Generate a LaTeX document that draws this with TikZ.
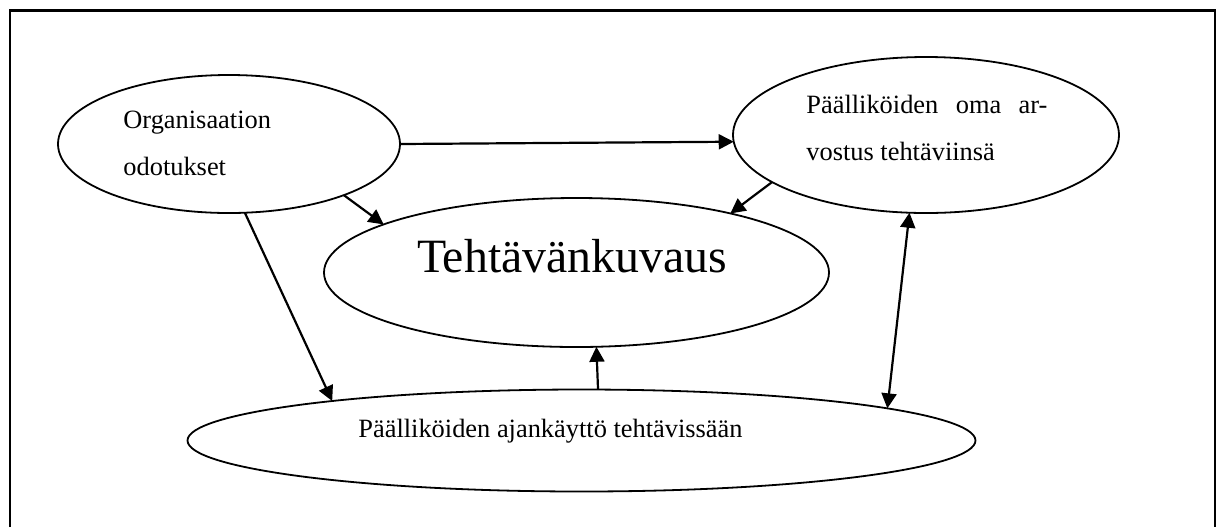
\documentclass[tikz,border=0pt]{standalone}
\usepackage{fontspec}
\setmainfont{Liberation Serif}
\usetikzlibrary{shapes.geometric,arrows.meta}
\begin{document}
\begin{tikzpicture}[x=0.5pt,y=-0.5pt,
  oval/.style={ellipse,draw,line width=0.9pt,inner sep=0pt,outer sep=0pt},
  lbl/.style={anchor=base west,inner sep=0pt,font=\fontsize{13.2}{16}\selectfont},
  conn/.style={line width=1.1pt,-{Triangle[length=7.5pt,width=7.5pt]}},
  dconn/.style={line width=1.1pt,{Triangle[length=7.5pt,width=7.5pt]}-{Triangle[length=7.5pt,width=7.5pt]}}]
\useasboundingbox (0,0) rectangle (1222,527);
\draw[line width=1.1pt] (10,527) -- (10,10.5) -- (1215,10.5) -- (1215,527);
% ellipses
\node[oval,minimum width=171pt,minimum height=69pt] (org) at (229,144) {};
\node[oval,minimum width=193pt,minimum height=78pt] (oma) at (926,135) {};
\node[oval,minimum width=252.5pt,minimum height=74.5pt] (teh) at (576.5,272.5) {};
\node[oval,minimum width=394pt,minimum height=51pt] (aja) at (581.5,440.5) {};
% texts
\node[lbl] (orgA) at (123,128) {Organisaation};
\node[lbl] (orgB) at (123,175) {odotukset};
\node[lbl] (omaA) at (806,113) {\hbox to 120.5pt{Päälliköiden\hfill oma\hfill ar-}};
\node[lbl] (omaB) at (806,160) {vostus tehtäviinsä};
\node[anchor=base,inner sep=0pt,font=\fontsize{23.9}{28}\selectfont] (tehT) at (572,272) {Tehtävänkuvaus};
\node[lbl] (ajaT) at (358,437) {Päälliköiden ajankäyttö tehtävissään};
% connectors
\draw[conn] (org.0.3) -- (oma.182);
\draw[conn] (org.-24.6) -- (teh.166.6);
\draw[conn] (oma.197.1) -- (teh.21);
\draw[conn] (org.-77.3) -- (aja.171.2);
\draw[conn] (aja.72.6) -- (teh.-75.8);
\draw[dconn] (oma.-102.4) -- (aja.6.1);
\end{tikzpicture}
\end{document}
